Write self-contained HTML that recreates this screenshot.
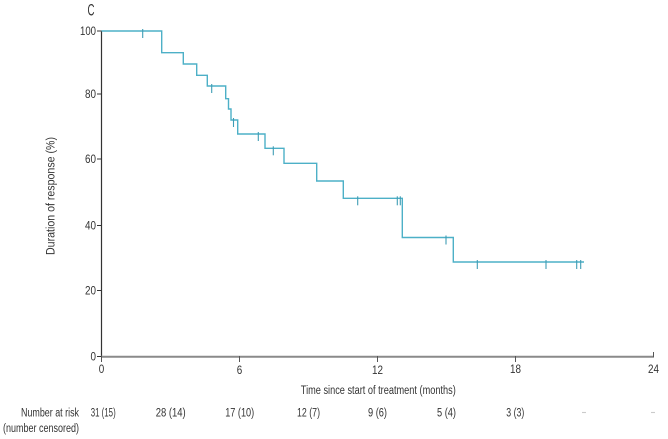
<!DOCTYPE html>
<html>
<head>
<meta charset="utf-8">
<style>
  html, body { margin:0; padding:0; background:#ffffff; }
  svg { display:block; }
  text { font-family: "Liberation Sans", "DejaVu Sans", sans-serif; fill:#333333; }
</style>
</head>
<body>
<svg width="668" height="439" viewBox="0 0 668 439" xmlns="http://www.w3.org/2000/svg">
  <rect x="0" y="0" width="668" height="439" fill="#ffffff"/>

  <!-- Panel letter -->
  <text x="87.5" y="15.5" font-size="16.5" textLength="7" lengthAdjust="spacingAndGlyphs">C</text>

  <!-- Y axis -->
  <line x1="101.5" y1="30.5" x2="101.5" y2="357" stroke="#333" stroke-width="1.2"/>
  <g stroke="#333" stroke-width="1">
    <line x1="97" y1="31" x2="101.5" y2="31"/>
    <line x1="97" y1="94" x2="101.5" y2="94"/>
    <line x1="97" y1="159" x2="101.5" y2="159"/>
    <line x1="97" y1="225.5" x2="101.5" y2="225.5"/>
    <line x1="97" y1="290.5" x2="101.5" y2="290.5"/>
    <line x1="97" y1="356.5" x2="101.5" y2="356.5"/>
  </g>
  <g font-size="11.5" text-anchor="end">
    <text x="96" y="35" textLength="16" lengthAdjust="spacingAndGlyphs">100</text>
    <text x="96" y="98" textLength="11" lengthAdjust="spacingAndGlyphs">80</text>
    <text x="96" y="163" textLength="11" lengthAdjust="spacingAndGlyphs">60</text>
    <text x="96" y="229.5" textLength="11" lengthAdjust="spacingAndGlyphs">40</text>
    <text x="96" y="294.5" textLength="11" lengthAdjust="spacingAndGlyphs">20</text>
    <text x="96" y="360.5" textLength="5.5" lengthAdjust="spacingAndGlyphs">0</text>
  </g>

  <!-- Y label -->
  <text transform="translate(54.5,196) rotate(-90)" font-size="11.5" text-anchor="middle" textLength="118" lengthAdjust="spacingAndGlyphs">Duration of response (%)</text>

  <!-- X axis -->
  <line x1="101" y1="356.8" x2="654" y2="356.8" stroke="#8a8a8a" stroke-width="2"/>
  <g stroke="#555" stroke-width="1">
    <line x1="101.5" y1="356" x2="101.5" y2="362"/>
    <line x1="239.5" y1="356" x2="239.5" y2="362"/>
    <line x1="377.5" y1="356" x2="377.5" y2="362"/>
    <line x1="515.5" y1="356" x2="515.5" y2="362"/>
    <line x1="653.5" y1="352" x2="653.5" y2="357"/>
  </g>
  <g font-size="11.5" text-anchor="middle">
    <text x="101.5" y="373" textLength="5.5" lengthAdjust="spacingAndGlyphs">0</text>
    <text x="239.5" y="374" textLength="5.5" lengthAdjust="spacingAndGlyphs">6</text>
    <text x="377.5" y="374" textLength="11" lengthAdjust="spacingAndGlyphs">12</text>
    <text x="515.5" y="373" textLength="11" lengthAdjust="spacingAndGlyphs">18</text>
    <text x="653.5" y="373" textLength="11" lengthAdjust="spacingAndGlyphs">24</text>
  </g>

  <!-- X label -->
  <text x="378.3" y="394" font-size="11.5" text-anchor="middle" textLength="155" lengthAdjust="spacingAndGlyphs">Time since start of treatment (months)</text>

  <!-- KM curve -->
  <path d="M101.5,31 H161.7 V52.7 H183.3 V64 H196.7 V75.3 H207.3 V86 H225.7 V98.7 H228.5 V109 H231 V120 H237.7 V134 H265 V148.3 H284 V163.3 H316.7 V181 H343.3 V198.3 H402.3 V237.5 H453.3 V262 H584"
        fill="none" stroke="#4db0c7" stroke-width="1.4"/>
  <!-- censor marks -->
  <g stroke="#3f9db5" stroke-width="1.1">
    <line x1="142.7" y1="29" x2="142.7" y2="38"/>
    <line x1="211.7" y1="84" x2="211.7" y2="93"/>
    <line x1="233.5" y1="118" x2="233.5" y2="127"/>
    <line x1="258.3" y1="132" x2="258.3" y2="141"/>
    <line x1="273.3" y1="146.3" x2="273.3" y2="155.3"/>
    <line x1="357.7" y1="196.3" x2="357.7" y2="205.3"/>
    <line x1="397.3" y1="196.3" x2="397.3" y2="205.3"/>
    <line x1="400.3" y1="196.3" x2="400.3" y2="205.3"/>
    <line x1="446" y1="235.5" x2="446" y2="244.5"/>
    <line x1="477.3" y1="260" x2="477.3" y2="269"/>
    <line x1="546" y1="260" x2="546" y2="269"/>
    <line x1="576.7" y1="260" x2="576.7" y2="269"/>
    <line x1="580.7" y1="260" x2="580.7" y2="269"/>
  </g>

  <!-- Number at risk -->
  <g font-size="11.5">
    <text x="79" y="416.5" text-anchor="end" textLength="58" lengthAdjust="spacingAndGlyphs">Number at risk</text>
    <text x="79" y="432" text-anchor="end" textLength="76" lengthAdjust="spacingAndGlyphs">(number censored)</text>
  </g>
  <g font-size="11.5" text-anchor="middle">
    <text x="103.2" y="416.5" textLength="25" lengthAdjust="spacingAndGlyphs">31 (15)</text>
    <text x="170.7" y="416.5" textLength="30" lengthAdjust="spacingAndGlyphs">28 (14)</text>
    <text x="239.7" y="416.5" textLength="29" lengthAdjust="spacingAndGlyphs">17 (10)</text>
    <text x="308.5" y="416.5" textLength="23" lengthAdjust="spacingAndGlyphs">12 (7)</text>
    <text x="377.5" y="416.5" textLength="19" lengthAdjust="spacingAndGlyphs">9 (6)</text>
    <text x="446.5" y="416.5" textLength="19" lengthAdjust="spacingAndGlyphs">5 (4)</text>
    <text x="515.3" y="416.5" textLength="18" lengthAdjust="spacingAndGlyphs">3 (3)</text>
  </g>
  <g fill="#9a9a9a">
    <circle cx="583" cy="412.5" r="0.6"/>
    <circle cx="585" cy="412.5" r="0.6"/>
    <circle cx="652" cy="412.5" r="0.6"/>
    <circle cx="654" cy="412.5" r="0.6"/>
  </g>
</svg>
</body>
</html>
